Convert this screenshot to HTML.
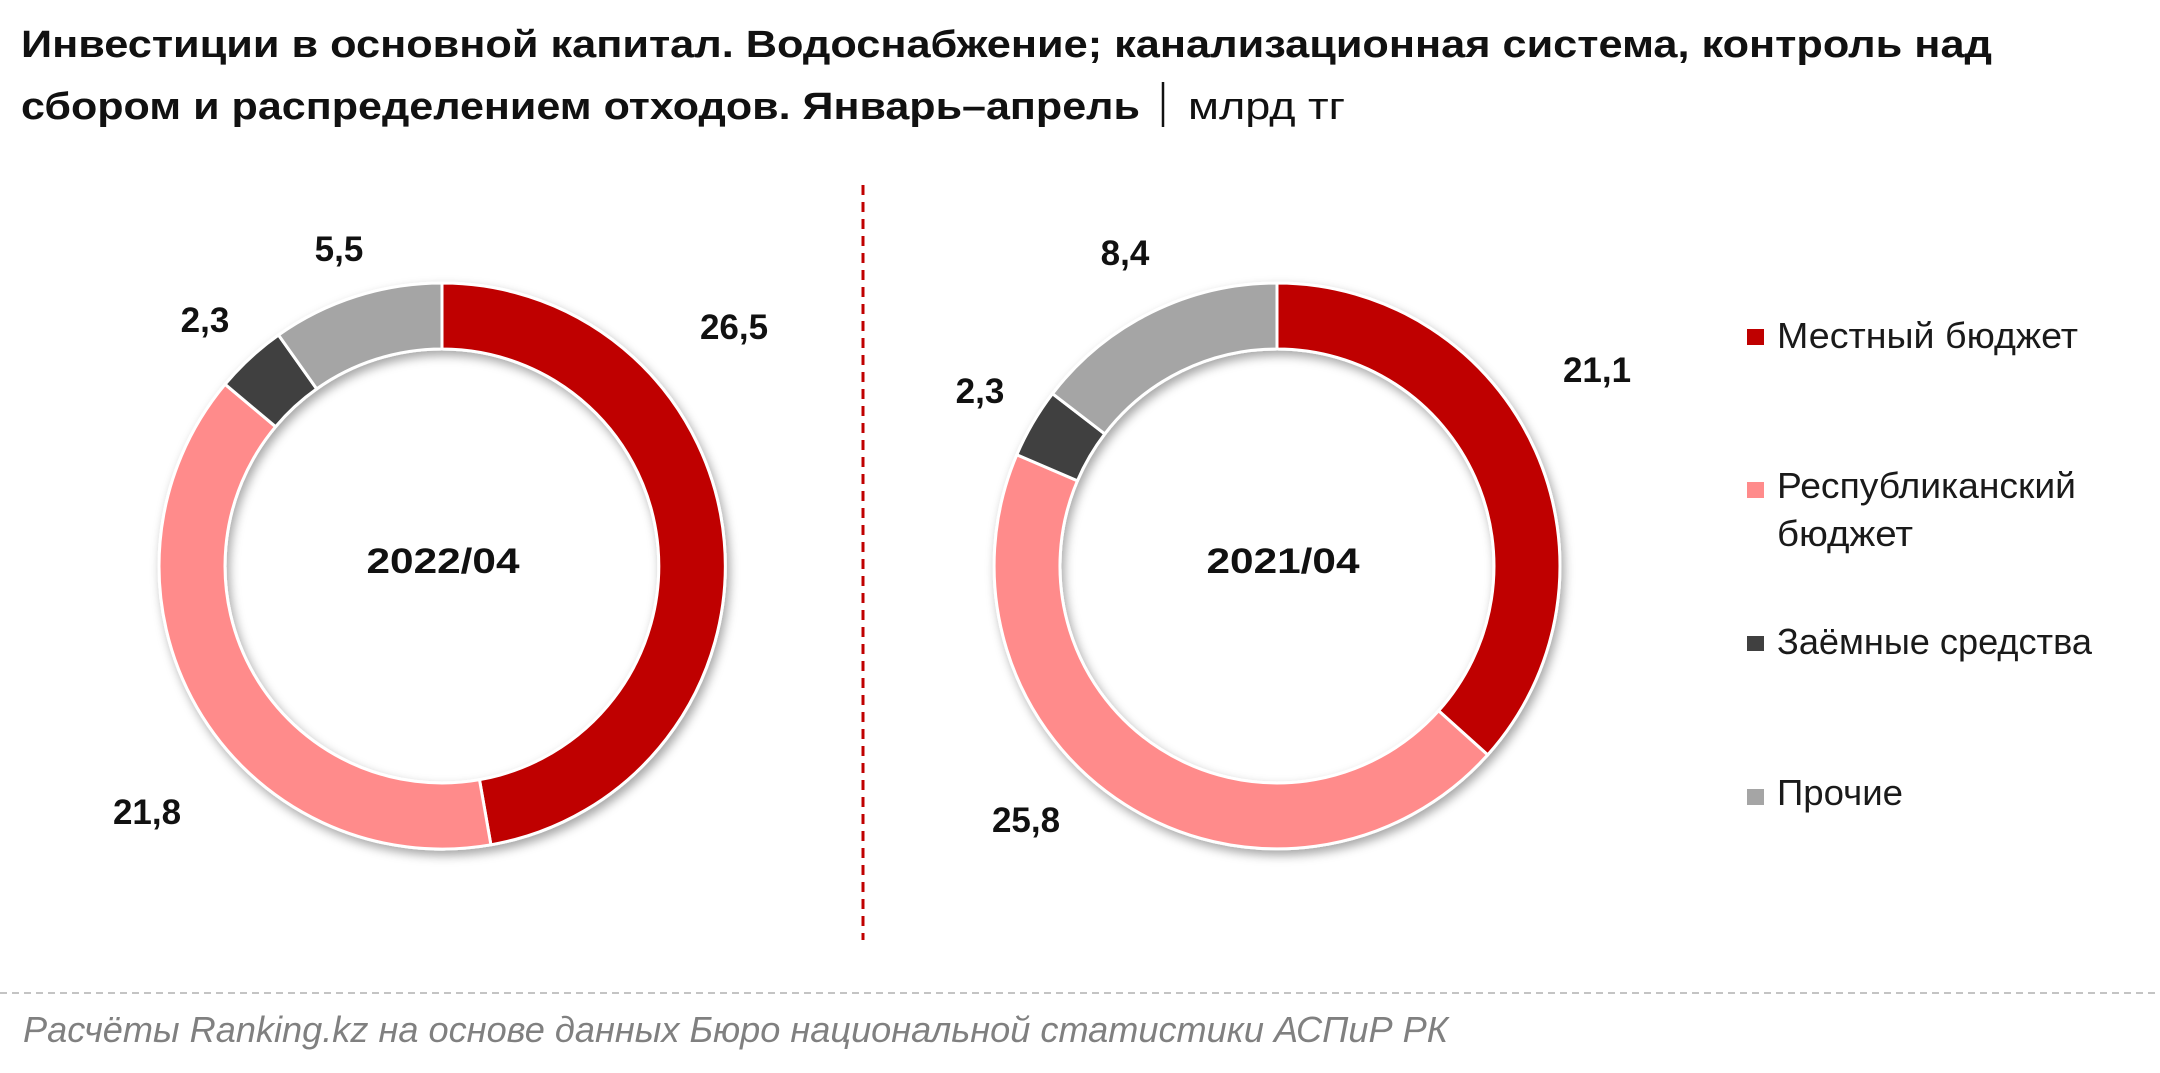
<!DOCTYPE html>
<html>
<head>
<meta charset="utf-8">
<style>
html,body{margin:0;padding:0;background:#fff;}
svg{display:block;}
</style>
</head>
<body>
<svg width="2160" height="1073" viewBox="0 0 2160 1073" xmlns="http://www.w3.org/2000/svg">
<defs>
<filter id="sh" x="-20%" y="-20%" width="140%" height="140%">
<feDropShadow dx="3" dy="5" stdDeviation="5" flood-color="#000" flood-opacity="0.35"/>
</filter>
</defs>
<rect width="2160" height="1073" fill="#fff"/>

<!-- Title -->
<g font-family="'Liberation Sans', sans-serif" fill="#111">
<text x="21" y="57" font-size="38" font-weight="bold" textLength="1971" lengthAdjust="spacingAndGlyphs">Инвестиции в основной капитал. Водоснабжение; канализационная система, контроль над</text>
<text x="21" y="119" font-size="38" font-weight="bold" textLength="1119" lengthAdjust="spacingAndGlyphs">сбором и распределением отходов. Январь–апрель</text>
<text x="1188" y="119" font-size="38" textLength="157" lengthAdjust="spacingAndGlyphs">млрд тг</text>
</g>
<line x1="1163" y1="82" x2="1163" y2="127" stroke="#111" stroke-width="2.5"/>

<!-- Divider -->
<line x1="863" y1="185" x2="863" y2="940" stroke="#C00000" stroke-width="3" stroke-dasharray="10 7"/>

<!-- Left donut -->
<g filter="url(#sh)" stroke="#fff" stroke-width="3" stroke-linejoin="round">
<path d="M442,283 A283,283 0 0 1 490.9,844.8 L479.5,779.7 A217,217 0 0 0 442,349 Z" fill="#BF0000"/>
<path d="M490.9,844.8 A283,283 0 0 1 225.1,384.3 L275.6,426.7 A217,217 0 0 0 479.5,779.7 Z" fill="#FF8B8B"/>
<path d="M225.1,384.3 A283,283 0 0 1 278.5,335.0 L316.7,388.9 A217,217 0 0 0 275.6,426.7 Z" fill="#404040"/>
<path d="M278.5,335.0 A283,283 0 0 1 442,283 L442,349 A217,217 0 0 0 316.7,388.9 Z" fill="#A5A5A5"/>
</g>

<!-- Right donut -->
<g filter="url(#sh)" stroke="#fff" stroke-width="3" stroke-linejoin="round">
<path d="M1277,283 A283,283 0 0 1 1487.7,754.9 L1438.6,710.8 A217,217 0 0 0 1277,349 Z" fill="#BF0000"/>
<path d="M1487.7,754.9 A283,283 0 0 1 1016.8,454.8 L1077.4,480.8 A217,217 0 0 0 1438.6,710.8 Z" fill="#FF8B8B"/>
<path d="M1016.8,454.8 A283,283 0 0 1 1052.5,393.7 L1104.8,433.9 A217,217 0 0 0 1077.4,480.8 Z" fill="#404040"/>
<path d="M1052.5,393.7 A283,283 0 0 1 1277,283 L1277,349 A217,217 0 0 0 1104.8,433.9 Z" fill="#A5A5A5"/>
</g>

<!-- Data labels -->
<g font-family="'Liberation Sans', sans-serif" font-weight="bold" font-size="35" fill="#111" text-anchor="middle">
<text x="339" y="261">5,5</text>
<text x="205" y="332">2,3</text>
<text x="734" y="339">26,5</text>
<text x="147" y="824">21,8</text>
<text x="443" y="573" textLength="153" lengthAdjust="spacingAndGlyphs">2022/04</text>
<text x="1125" y="265">8,4</text>
<text x="980" y="403">2,3</text>
<text x="1597" y="382">21,1</text>
<text x="1026" y="832">25,8</text>
<text x="1283" y="573" textLength="153" lengthAdjust="spacingAndGlyphs">2021/04</text>
</g>

<!-- Legend -->
<rect x="1747" y="329" width="17" height="16" fill="#BF0000"/>
<rect x="1747" y="482" width="17" height="16" fill="#FF8B8B"/>
<rect x="1747" y="636" width="17" height="15" fill="#404040"/>
<rect x="1747" y="789" width="17" height="16" fill="#A5A5A5"/>
<g font-family="'Liberation Sans', sans-serif" font-size="36" fill="#1a1a1a">
<text x="1777" y="348" textLength="301" lengthAdjust="spacingAndGlyphs">Местный бюджет</text>
<text x="1777" y="498" textLength="299" lengthAdjust="spacingAndGlyphs">Республиканский</text>
<text x="1777" y="546" textLength="136" lengthAdjust="spacingAndGlyphs">бюджет</text>
<text x="1777" y="654" textLength="315" lengthAdjust="spacingAndGlyphs">Заёмные средства</text>
<text x="1777" y="805" textLength="126" lengthAdjust="spacingAndGlyphs">Прочие</text>
</g>

<!-- Footer -->
<line x1="0" y1="993" x2="2160" y2="993" stroke="#C4C4C4" stroke-width="2" stroke-dasharray="7 5"/>
<text x="23" y="1042" font-family="'Liberation Sans', sans-serif" font-style="italic" font-size="36" fill="#808080" textLength="1425" lengthAdjust="spacingAndGlyphs">Расчёты Ranking.kz на основе данных Бюро национальной статистики АСПиР РК</text>
</svg>
</body>
</html>
